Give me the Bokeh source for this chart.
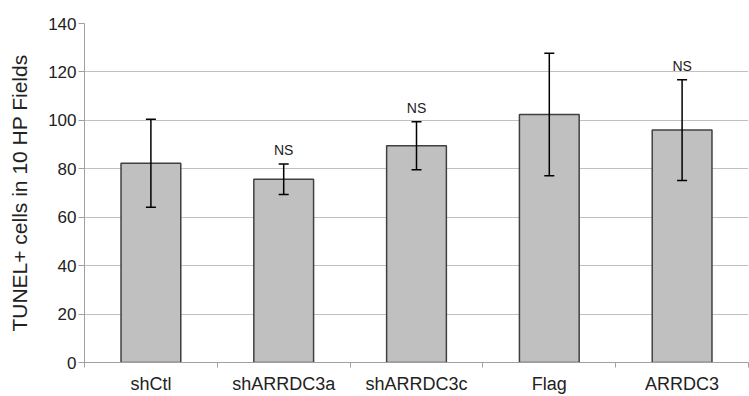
from bokeh.plotting import figure
from bokeh.models import ColumnDataSource, Range1d, FixedTicker, Whisker
from bokeh.core.properties import value
from bokeh.embed import file_html
from bokeh.resources import INLINE

categories = ["shCtl", "shARRDC3a", "shARRDC3c", "Flag", "ARRDC3"]
means = [82.3, 75.7, 89.5, 102.4, 96.0]
errors = [18.2, 6.3, 9.9, 25.3, 20.8]
marks = ["", "NS", "NS", "", "NS"]
y_ticks = [0, 20, 40, 60, 80, 100, 120, 140]

xs = [i + 0.5 for i in range(len(categories))]
src = ColumnDataSource(dict(
    x=xs, cat=categories, mean=means,
    upper=[m + e for m, e in zip(means, errors)],
    lower=[m - e for m, e in zip(means, errors)],
    mark=marks,
))

FONT = "Liberation Sans"

p = figure(width=749, height=396, output_backend="svg", toolbar_location=None,
           x_range=Range1d(0, len(categories)), y_range=Range1d(0, 140),
           min_border_left=84, min_border_right=1, min_border_top=23,
           min_border_bottom=34, background_fill_color="white",
           border_fill_color="white", outline_line_color=None)

p.vbar(x="x", top="mean", bottom=0, width=0.45, source=src,
       fill_color="#c0c0c0", line_color="#404040", line_width=1.5)

w = Whisker(base="x", upper="upper", lower="lower", source=src,
            line_color="black", line_width=1.5, level="overlay")
w.upper_head.size = 10
w.lower_head.size = 10
w.upper_head.line_color = "black"
w.lower_head.line_color = "black"
w.upper_head.line_width = 1.5
w.lower_head.line_width = 1.5
p.add_layout(w)

p.text(x="x", y="upper", text="mark", source=src, y_offset=-14,
       text_align="center", text_baseline="middle",
       text_font=value(FONT), text_font_size="14px", text_color="#222222")

# x axis
p.xaxis.ticker = FixedTicker(ticks=xs, minor_ticks=list(range(len(categories) + 1)))
p.xaxis.major_label_overrides = {x: c for x, c in zip(xs, categories)}
p.xaxis.major_tick_out = 0
p.xaxis.major_tick_in = 0
p.xaxis.minor_tick_out = 5
p.xaxis.minor_tick_in = 0
p.xaxis.minor_tick_line_color = "#a0a0a0"
p.xaxis.axis_line_color = "#a0a0a0"
p.xaxis.major_label_text_font = FONT
p.xaxis.major_label_text_font_size = "18px"
p.xaxis.major_label_text_color = "#222222"
p.xaxis.major_label_standoff = 6
p.xgrid.visible = False

# y axis
p.yaxis.ticker = FixedTicker(ticks=y_ticks)
p.yaxis.major_tick_out = 6
p.yaxis.major_tick_in = 0
p.yaxis.major_tick_line_color = "#a0a0a0"
p.yaxis.minor_tick_line_color = None
p.yaxis.axis_line_color = "#a0a0a0"
p.yaxis.major_label_text_font = FONT
p.yaxis.major_label_text_font_size = "17px"
p.yaxis.major_label_text_color = "#222222"
p.yaxis.major_label_standoff = 2
p.yaxis.axis_label = "TUNEL+ cells in 10 HP Fields"
p.yaxis.axis_label_text_font = FONT
p.yaxis.axis_label_text_font_size = "21px"
p.yaxis.axis_label_text_font_style = "normal"
p.yaxis.axis_label_text_color = "#222222"
p.yaxis.axis_label_standoff = 14
p.ygrid.grid_line_color = "#c0c0c0"
p.ygrid.grid_line_width = 1

open("out.html", "w").write(file_html(p, INLINE))
